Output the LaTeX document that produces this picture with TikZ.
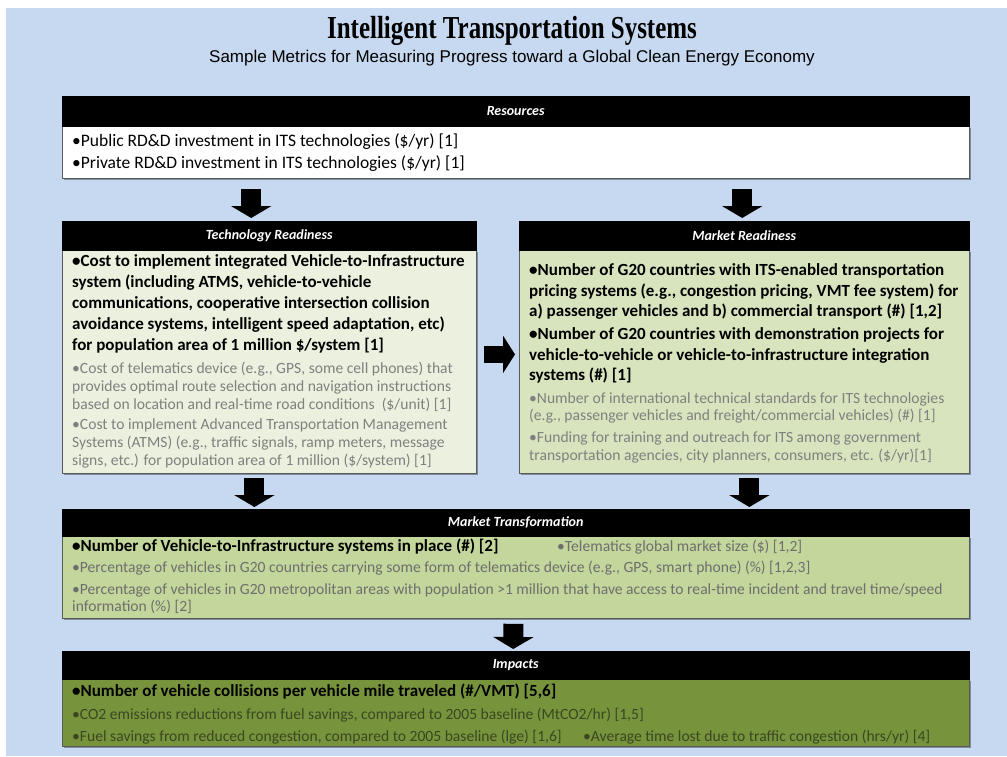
\documentclass[tikz,border=0pt]{standalone}
\usepackage{fontspec}
\setmainfont{Carlito}
\newfontfamily\titlefont[FakeStretch=0.78]{Liberation Serif}
\newfontfamily\subfont{Liberation Sans}
\usetikzlibrary{arrows.meta,calc,shadows}
\definecolor{bgblue}{HTML}{C6D9F0}
\definecolor{techfill}{HTML}{EBF1DE}
\definecolor{mktfill}{HTML}{D7E4BD}
\definecolor{transfill}{HTML}{C3D69B}
\definecolor{impfill}{HTML}{77933C}
\definecolor{graytxt}{HTML}{808080}
\definecolor{graytxtb}{HTML}{6E6E6E}
\definecolor{imptxt}{HTML}{3A4722}
\begin{document}
\begin{tikzpicture}[x=1pt,y=-1pt,
  hdr/.style={rectangle,fill=black,draw=black,text=white,inner sep=0pt,anchor=north west,
     font=\fontsize{14}{14}\selectfont\bfseries\itshape},
  bodybox/.style={rectangle,draw=black!65,line width=0.8pt,inner sep=0pt,anchor=north west,
     drop shadow={shadow xshift=1.2pt,shadow yshift=-1.2pt,fill=black,opacity=0.35}},
  tx/.style={anchor=base west,inner sep=0pt},
  bt/.style={tx,font=\fontsize{17}{17}\selectfont\bfseries,text=black},
  rt/.style={tx,font=\fontsize{17.5}{17.5}\selectfont,text=black},
  gt/.style={tx,font=\fontsize{15.6}{15.6}\selectfont,text=graytxt},
  barrow/.style={line width=20pt,black,-{Triangle[width=40pt,length=12pt]}},
  harrow/.style={line width=17pt,black,-{Triangle[width=37pt,length=12pt]}}
]
\useasboundingbox (0,0) rectangle (1007,756);
\fill[white] (0,0) rectangle (1007,756);
\fill[bgblue] (6,8) rectangle (1007,756);

% title
\node[inner sep=0pt,font=\titlefont\fontsize{32}{32}\selectfont\bfseries] (title) at (512,31) {Intelligent Transportation Systems};
\node[inner sep=0pt,font=\subfont\fontsize{17}{17}\selectfont] (subtitle) at (512,58) {Sample Metrics for Measuring Progress toward a Global Clean Energy Economy};

% Resources
\node[bodybox,fill=white,minimum width=907pt,minimum height=52pt] (resB) at (62,126) {};
\node[hdr,minimum width=907pt,minimum height=30pt] (resH) at (62,96) {Resources};
\node[rt] (r1) at (72,146) {•Public RD\&D investment in ITS technologies (\$/yr) [1]};
\node[rt] (r2) at (72,168) {•Private RD\&D investment in ITS technologies (\$/yr) [1]};

% Technology Readiness
\node[bodybox,fill=techfill,minimum width=414pt,minimum height=223pt] (techB) at (62,250) {};
\node[hdr,minimum width=414pt,minimum height=29pt] (techH) at (62,221) {Technology Readiness};
\node[bt] (t1) at (72,266) {•Cost to implement integrated Vehicle-to-Infrastructure};
\node[bt] (t2) at (72,287) {system (including ATMS, vehicle-to-vehicle};
\node[bt] (t3) at (72,308) {communications, cooperative intersection collision};
\node[bt] (t4) at (72,329) {avoidance systems, intelligent speed adaptation, etc)};
\node[bt] (t5) at (72,350) {for population area of 1 million \$/system [1]};
\node[gt] (t6) at (72,373) {•Cost of telematics device (e.g., GPS, some cell phones) that};
\node[gt] (t7) at (72,391) {provides optimal route selection and navigation instructions};
\node[gt] (t8) at (72,409) {based on location and real-time road conditions~ (\$/unit) [1]};
\node[gt] (t9) at (72,429) {•Cost to implement Advanced Transportation Management};
\node[gt] (t10) at (72,447) {Systems (ATMS) (e.g., traffic signals, ramp meters, message};
\node[gt] (t11) at (72,465) {signs, etc.) for population area of 1 million (\$/system) [1]};

% Market Readiness
\node[bodybox,fill=mktfill,minimum width=450pt,minimum height=223pt] (mktB) at (519,250) {};
\node[hdr,minimum width=450pt,minimum height=29pt] (mktH) at (519,221) {Market Readiness};
\node[bt] (m1) at (529,275) {•Number of G20 countries with ITS-enabled transportation};
\node[bt] (m2) at (529,296) {pricing systems (e.g., congestion pricing, VMT fee system) for};
\node[bt] (m3) at (529,316) {a) passenger vehicles and b) commercial transport (\#) [1,2]};
\node[bt] (m4) at (529,339) {•Number of G20 countries with demonstration projects for};
\node[bt] (m5) at (529,360) {vehicle-to-vehicle or vehicle-to-infrastructure integration};
\node[bt] (m6) at (529,380) {systems (\#) [1]};
\node[gt] (m7) at (529,403) {•Number of international technical standards for ITS technologies};
\node[gt] (m8) at (529,420) {(e.g., passenger vehicles and freight/commercial vehicles) (\#) [1]};
\node[gt] (m9) at (529,442) {•Funding for training and outreach for ITS among government};
\node[gt] (m10) at (529,460) {transportation agencies, city planners, consumers, etc. (\$/yr)[1]};

% Market Transformation
\node[bodybox,fill=transfill,minimum width=907pt,minimum height=82pt] (transB) at (62,536) {};
\node[hdr,minimum width=907pt,minimum height=27pt] (transH) at (62,509) {Market Transformation};
\node[bt] (mt1) at (72,551) {•Number of Vehicle-to-Infrastructure systems in place (\#) [2]};
\node[gt,text=graytxtb] (mt2) at (557,551) {•Telematics global market size (\$) [1,2]};
\node[gt,text=graytxtb] (mt3) at (72,572) {•Percentage of vehicles in G20 countries carrying some form of telematics device (e.g., GPS, smart phone) (\%) [1,2,3]};
\node[gt,text=graytxtb] (mt4) at (72,594) {•Percentage of vehicles in G20 metropolitan areas with population >1 million that have access to real-time incident and travel time/speed};
\node[gt,text=graytxtb] (mt5) at (72,611) {information (\%) [2]};

% Impacts
\node[bodybox,fill=impfill,minimum width=907pt,minimum height=67pt] (impB) at (62,679) {};
\node[hdr,minimum width=907pt,minimum height=28pt] (impH) at (62,651) {Impacts};
\node[bt] (i1) at (72,696) {•Number of vehicle collisions per vehicle mile traveled (\#/VMT) [5,6]};
\node[gt,text=imptxt] (i2) at (72,719) {•CO2 emissions reductions from fuel savings, compared to 2005 baseline (MtCO2/hr) [1,5]};
\node[gt,text=imptxt] (i3) at (72,741) {•Fuel savings from reduced congestion, compared to 2005 baseline (lge) [1,6]};
\node[gt,text=imptxt] (i4) at (583,741) {•Average time lost due to traffic congestion (hrs/yr) [4]};

% arrows
\draw[barrow] ($(resB.south -| techH.north)+(-18,10)$) -- ($(techH.north)+(-18,-3)$);
\draw[barrow] ($(resB.south -| mktH.north)+(-2,10)$) -- ($(mktH.north)+(-2,-3)$);
\draw[harrow] ($(techB.east)+(7,-7.5)$) -- ($(techB.east -| mktB.west)+(-4,-7.5)$);
\draw[barrow] ($(techB.south)+(-15,4)$) -- ($(techB.south |- transH.north)+(-15,-2)$);
\draw[barrow] ($(mktB.south)+(5,4)$) -- ($(mktB.south |- transH.north)+(5,-2)$);
\draw[barrow] ($(transB.south)+(-2.5,5)$) -- ($(impH.north)+(-2.5,-2)$);
\end{tikzpicture}
\end{document}
